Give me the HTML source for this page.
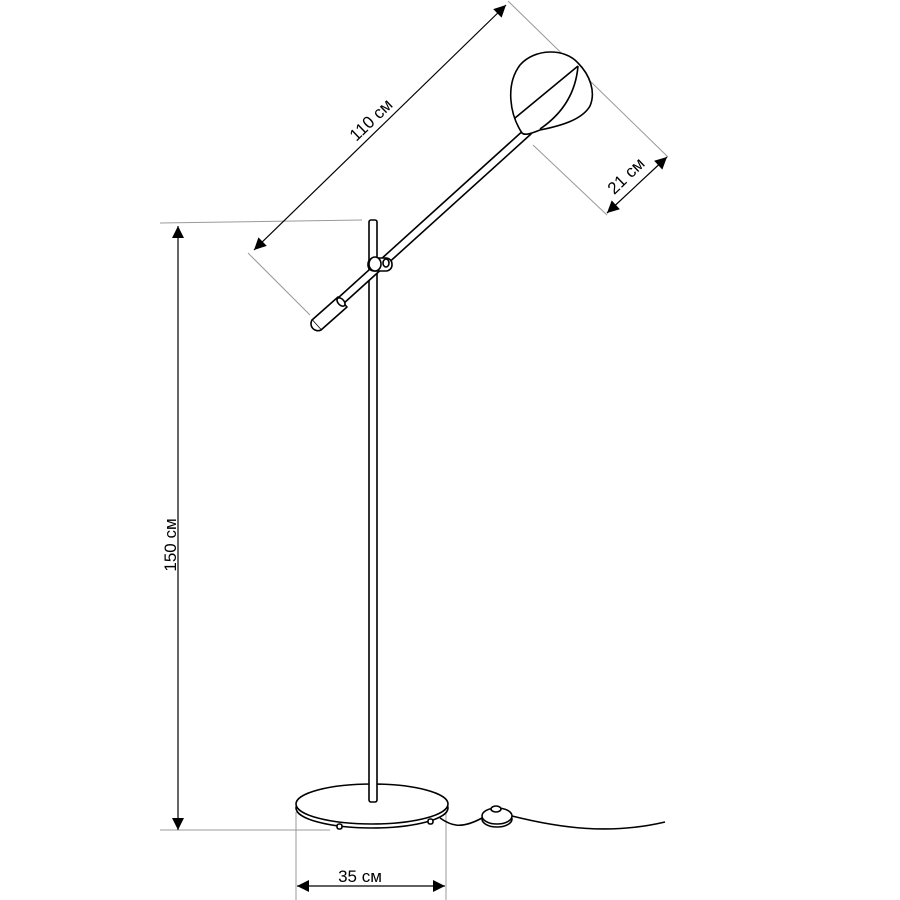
<!DOCTYPE html>
<html><head><meta charset="utf-8"><style>html,body{margin:0;padding:0;background:#fff}svg{display:block}</style></head>
<body>
<svg width="900" height="900" viewBox="0 0 900 900" xmlns="http://www.w3.org/2000/svg" font-family="'Liberation Sans', sans-serif">
<defs>
<marker id="a" viewBox="0 0 10 10" refX="10" refY="5" markerWidth="20" markerHeight="12" markerUnits="userSpaceOnUse" orient="auto-start-reverse"><path d="M0,0L10,5L0,10z" fill="#000"/></marker>
</defs>
<g stroke="#999" stroke-width="1" fill="none">
<line x1="160" y1="223" x2="362" y2="220"/>
<line x1="160" y1="830" x2="330" y2="830"/>
<line x1="296" y1="812" x2="296" y2="900"/>
<line x1="446" y1="812" x2="446" y2="900"/>
<line x1="248" y1="253" x2="310" y2="315"/>
<line x1="508" y1="1" x2="668" y2="157"/>
<line x1="533" y1="145" x2="607" y2="215"/>
</g>
<g stroke="#000" stroke-width="1.2" fill="none">
<line x1="178" y1="226" x2="178" y2="830" marker-start="url(#a)" marker-end="url(#a)"/>
<line x1="297" y1="886" x2="445" y2="886" marker-start="url(#a)" marker-end="url(#a)"/>
<line x1="254" y1="250" x2="506" y2="5" marker-start="url(#a)" marker-end="url(#a)"/>
<line x1="607" y1="213" x2="667" y2="157" marker-start="url(#a)" marker-end="url(#a)"/>
</g>
<g stroke="#000" stroke-width="1.6" fill="#fff" stroke-linejoin="round">
<ellipse cx="372" cy="808" rx="76" ry="20"/>
<ellipse cx="372" cy="804" rx="76" ry="20"/>
<rect x="337" y="824" width="5" height="5" rx="2"/>
<rect x="428" y="819" width="5" height="5" rx="2"/>
<rect x="369" y="220" width="8" height="582" rx="2"/>
<polygon points="338,298 526,128 531,134 343,304"/>
<polygon points="312,320 338,297 347,307 321,330" />
<path d="M312,320 a7,7 0 0 0 9,10"/>
<ellipse cx="341" cy="302" rx="3" ry="5" transform="rotate(-42 341 302)"/>
<rect x="368" y="258" width="24" height="13" rx="6"/>
<ellipse cx="375" cy="264" rx="6" ry="7"/>
<ellipse cx="386" cy="263" rx="3" ry="4"/>
<path d="M522,133 C510,115 505,85 520,65 C535,48 565,48 578,63 C590,75 596,92 590,106 C582,120 560,126 540,130 C532,133 525,136 522,133 Z"/>
<path d="M578,66 C576,90 565,112 540,129" fill="none"/>
<line x1="578" y1="66" x2="515" y2="118"/>
<path d="M440,818 C450,825 460,830 482,818" fill="none"/>
<path d="M512,816 C560,828 610,835 665,822" fill="none"/>
<ellipse cx="497" cy="819" rx="15" ry="8"/>
<ellipse cx="497" cy="816" rx="15" ry="8"/>
<ellipse cx="496" cy="809" rx="5" ry="3"/>
</g>
<g font-size="17" fill="#000">
<text x="360" y="882" text-anchor="middle">35 см</text>
<text transform="translate(176,545) rotate(-90)" text-anchor="middle">150 см</text>
<text transform="translate(375,124) rotate(-44)" text-anchor="middle">110 см</text>
<text transform="translate(630,180) rotate(-44)" text-anchor="middle">21 см</text>
</g>
</svg>
</body></html>
